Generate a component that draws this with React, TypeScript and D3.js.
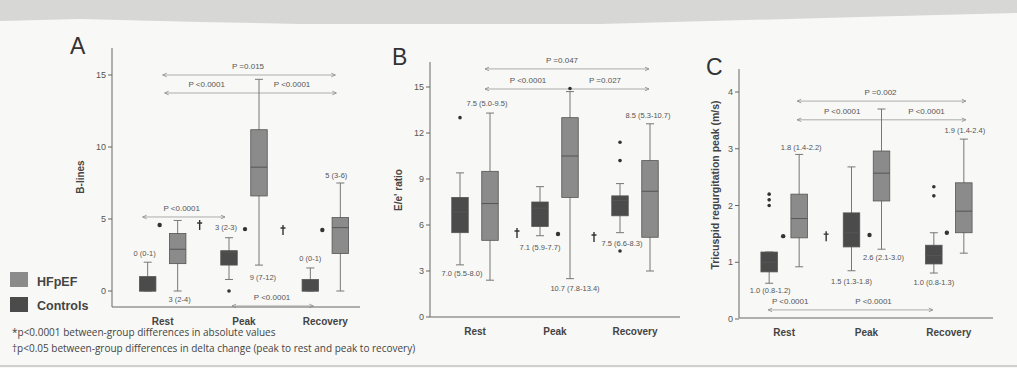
import React from 'react';
import * as d3 from 'd3';

const categories = ['Rest', 'Peak', 'Recovery'];
const groups = ['Controls', 'HFpEF'];

// box stats per category: [whisker low, q1, median, q3, whisker high]
const blinesControls = [[0, 0, 0, 1, 2], [0.8, 1.8, 2.7, 2.8, 3.7], [0, 0, 0, 0.8, 1.6]];
const blinesHfpef = [[0, 1.9, 2.9, 4, 4.9], [1.8, 6.6, 8.6, 11.2, 14.7], [0, 2.6, 4.4, 5.1, 7.5]];
const blinesOutliers = [{ cat: 'Peak', group: 'Controls', v: 0 }];
const blinesTicks = [0, 5, 10, 15];
const blinesText = ['0 (0-1)', '3 (2-4)', '3 (2-3)', '9 (7-12)', '0 (0-1)', '5 (3-6)'];
const blinesP = ['P =0.015', 'P <0.0001', 'P <0.0001', 'P <0.0001', 'P <0.0001', 'P <0.0001'];

const eeControls = [[3.4, 5.5, 6.85, 7.8, 9.4], [5.3, 5.9, 7.1, 7.5, 8.5], [5.5, 6.6, 7.6, 7.9, 8.7]];
const eeHfpef = [[2.4, 5.0, 7.4, 9.5, 13.3], [2.5, 7.8, 10.5, 13.0, 14.7], [3.0, 5.2, 8.2, 10.2, 12.6]];
const eeOutliers = [
  { cat: 'Rest', group: 'Controls', v: 13.0 },
  { cat: 'Peak', group: 'HFpEF', v: 14.9 },
  { cat: 'Recovery', group: 'Controls', v: 11.4 },
  { cat: 'Recovery', group: 'Controls', v: 10.2 },
  { cat: 'Recovery', group: 'Controls', v: 4.3 },
];
const eeTicks = [0, 3, 6, 9, 12, 15];
const eeText = ['7.0 (5.5-8.0)', '7.5 (5.0-9.5)', '7.1 (5.9-7.7)', '10.7 (7.8-13.4)', '7.5 (6.6-8.3)', '8.5 (5.3-10.7)'];
const eeP = ['P =0.047', 'P <0.0001', 'P =0.027'];

const trControls = [[0.63, 0.83, 1.0, 1.18, 1.18], [0.85, 1.27, 1.52, 1.87, 2.68], [0.81, 0.97, 1.12, 1.3, 1.52]];
const trHfpef = [[0.92, 1.43, 1.77, 2.2, 2.9], [1.23, 2.08, 2.57, 2.96, 3.7], [1.16, 1.52, 1.9, 2.4, 3.17]];
const trOutliers = [
  { cat: 'Rest', group: 'Controls', v: 2.2 },
  { cat: 'Rest', group: 'Controls', v: 2.1 },
  { cat: 'Rest', group: 'Controls', v: 2.0 },
  { cat: 'Recovery', group: 'Controls', v: 2.33 },
  { cat: 'Recovery', group: 'Controls', v: 2.17 },
];
const trTicks = [0, 1, 2, 3, 4];
const trText = ['1.0 (0.8-1.2)', '1.8 (1.4-2.2)', '1.5 (1.3-1.8)', '2.6 (2.1-3.0)', '1.0 (0.8-1.3)', '1.9 (1.4-2.4)'];
const trP = ['P =0.002', 'P <0.0001', 'P <0.0001', 'P <0.0001', 'P <0.0001'];

const footnotes = [
  '*p<0.0001 between-group differences in absolute values',
  '\u2020p<0.05 between-group differences in delta change (peak to rest and peak to recovery)',
];

const HF_FILL = '#8b8b8b';
const CT_FILL = '#4b4b4b';
const FONT = '"Liberation Sans", Arial, sans-serif';

// layout for each panel (positions only)
const layoutA = {
  letter: 'A', letterX: 70, letterY: 54, title: 'B-lines', titleX: 84, titleY: 177,
  axisX: 112, axisTop: 48, baseY: 307, xEnd: 360, xRange: [122, 366], yRange: [291, 75], domain: [0, 15],
  textPos: [[-18, 2.6], [17, -0.6], [-18, 4.4], [19, 0.97], [-15, 2.3], [11, 8.05]],
  brackets: [
    { from: ['Rest', 0], to: ['Recovery', 10], v: 15.0, labels: [['Peak', 4]], p: [0] },
    { from: ['Rest', 2], to: ['Recovery', 11], v: 13.75, labels: [['Rest', 44], ['Peak', 48]], p: [1, 2] },
    { from: ['Rest', -20], to: ['Peak', -19], v: 5.14, labels: [['Rest', 19]], p: [3] },
    { from: ['Peak', -12], to: ['Recovery', -12], v: -1.04, labels: [['Peak', 28]], p: [4] },
  ],
  marks: [['Rest', -3, 4.58, '*'], ['Rest', 37, 4.58, '\u2020'], ['Peak', 1, 4.3, '*'], ['Peak', 39, 4.24, '\u2020'], ['Recovery', -3, 4.24, '*']],
};

const layoutB = {
  letter: 'B', letterX: 392, letterY: 65, title: "E/e' ratio", titleX: 402, titleY: 190,
  axisX: 430, axisTop: 62, baseY: 317, xEnd: 680, xRange: [435, 675], yRange: [317, 87], domain: [0, 15],
  textPos: [[-13, 2.87], [12, 13.96], [-15, 4.57], [20, 1.89], [-13, 4.83], [13, 13.18]],
  brackets: [
    { from: ['Rest', 10], to: ['Recovery', 14], v: 16.18, labels: [['Peak', 7]], p: [0] },
    { from: ['Rest', 10], to: ['Recovery', 14], v: 14.87, labels: [['Rest', 53], ['Peak', 50]], p: [1, 2] },
  ],
  marks: [['Peak', -38, 5.48, '\u2020'], ['Peak', 3, 5.41, '*'], ['Recovery', -41, 5.22, '\u2020']],
};

const layoutC = {
  letter: 'C', letterX: 706, letterY: 75, title: 'Tricuspid regurgitation peak (m/s)', titleX: 719, titleY: 185,
  axisX: 739, axisTop: 69, baseY: 318, xEnd: 993, xRange: [743, 990], yRange: [319, 92], domain: [0, 4],
  textPos: [[-14, 0.5], [17, 3.03], [-15, 0.67], [17, 1.09], [-15, 0.65], [16, 3.33]],
  brackets: [
    { from: ['Rest', 13], to: ['Recovery', 17], v: 3.84, labels: [['Peak', 14]], p: [0] },
    { from: ['Rest', 13], to: ['Recovery', 17], v: 3.51, labels: [['Rest', 58], ['Peak', 60]], p: [1, 2] },
    { from: ['Rest', -16], to: ['Recovery', -16], v: 0.16, labels: [['Rest', 6], ['Peak', 7]], p: [3, 4] },
  ],
  marks: [['Rest', -1, 1.46, '*'], ['Rest', 42, 1.46, '\u2020'], ['Peak', 3, 1.48, '*'], ['Recovery', -2, 1.52, '*']],
};

type Layout = typeof layoutA;

function Panel({ L, ctrl, hf, outliers, ticks, texts, pvals }: any) {
  const lay: Layout = L;
  const x = d3.scaleBand().domain(categories).range(lay.xRange as [number, number]);
  const cx = (c: string) => (x(c) as number) + x.bandwidth() / 2;
  const gx = d3.scalePoint().domain(groups).range([-15, 15]);
  const y = d3.scaleLinear().domain(lay.domain).range(lay.yRange);
  const bw = 16.5;

  const boxes: any[] = [];
  categories.forEach((c, i) => {
    boxes.push({ c, g: 'Controls', s: ctrl[i], fill: CT_FILL });
    boxes.push({ c, g: 'HFpEF', s: hf[i], fill: HF_FILL });
  });

  return (
    <g fontFamily={FONT}>
      <text x={lay.letterX} y={lay.letterY} fontSize={23} fill="#333">{lay.letter}</text>
      <text transform={`translate(${lay.titleX},${lay.titleY}) rotate(-90)`} textAnchor="middle"
        fontSize={lay.letter === 'C' ? 10.5 : 10} fontWeight="bold" fill="#444">{lay.title}</text>
      {/* axes */}
      <line x1={lay.axisX} x2={lay.axisX} y1={lay.axisTop} y2={lay.baseY} stroke="#666" strokeWidth={1} />
      <line x1={lay.axisX} x2={lay.xEnd} y1={lay.baseY} y2={lay.baseY} stroke="#666" strokeWidth={1} />
      {ticks.map((t: number) => (
        <g key={t} transform={`translate(${lay.axisX},${y(t)})`}>
          <line x1={-4} x2={0} stroke="#666" />
          <text x={-6} dy="0.35em" textAnchor="end" fontSize={9} fill="#555">{t}</text>
        </g>
      ))}
      {categories.map(c => (
        <text key={c} x={cx(c)} y={lay.baseY + 18} textAnchor="middle" fontSize={10} fontWeight="bold" fill="#444">{c}</text>
      ))}
      {/* brackets */}
      {lay.brackets.map((b, i) => {
        const x1 = cx(b.from[0] as string) + (b.from[1] as number);
        const x2 = cx(b.to[0] as string) + (b.to[1] as number);
        const yy = y(b.v);
        return (
          <g key={i}>
            <line x1={x1} x2={x2} y1={yy} y2={yy} stroke="#999" strokeWidth={0.8} />
            <path d={`M${x1 + 4},${yy - 1.8}L${x1},${yy}L${x1 + 4},${yy + 1.8}`} fill="none" stroke="#888" strokeWidth={0.8} />
            <path d={`M${x2 - 4},${yy - 1.8}L${x2},${yy}L${x2 - 4},${yy + 1.8}`} fill="none" stroke="#888" strokeWidth={0.8} />
            {b.labels.map((l, j) => (
              <text key={j} x={cx(l[0] as string) + (l[1] as number)} y={yy - 6} textAnchor="middle" fontSize={8} fill="#555">
                {pvals[b.p[j]]}
              </text>
            ))}
          </g>
        );
      })}
      {/* boxes */}
      {boxes.map((b, i) => {
        const xc = cx(b.c) + (gx(b.g) as number);
        const [lo, q1, med, q3, hi] = b.s;
        return (
          <g key={i}>
            <line x1={xc} x2={xc} y1={y(hi)} y2={y(lo)} stroke="#777" strokeWidth={1} />
            <line x1={xc - 4} x2={xc + 4} y1={y(hi)} y2={y(hi)} stroke="#777" strokeWidth={1} />
            <line x1={xc - 4} x2={xc + 4} y1={y(lo)} y2={y(lo)} stroke="#777" strokeWidth={1} />
            <rect x={xc - bw / 2} width={bw} y={y(q3)} height={Math.max(0.5, y(q1) - y(q3))}
              fill={b.fill} stroke="#555" strokeWidth={0.8} />
            <line x1={xc - bw / 2} x2={xc + bw / 2} y1={y(med)} y2={y(med)} stroke="#555" strokeWidth={1} />
          </g>
        );
      })}
      {outliers.map((o: any, i: number) => (
        <circle key={i} cx={cx(o.cat) + (gx(o.group) as number)} cy={y(o.v)} r={1.8} fill="#333" />
      ))}
      {/* median (IQR) labels */}
      {texts.map((t: string, i: number) => {
        const c = categories[Math.floor(i / 2)];
        const [dx, v] = lay.textPos[i];
        return (
          <text key={i} x={cx(c) + dx} y={y(v)} dy="0.35em" textAnchor="middle" fontSize={7.5} fill="#555">{t}</text>
        );
      })}
      {/* significance marks: * as dot, dagger drawn as a small cross */}
      {lay.marks.map((m, i) => {
        const xx = cx(m[0] as string) + (m[1] as number);
        const yy = y(m[2] as number);
        return m[3] === '*'
          ? <circle key={i} cx={xx} cy={yy} r={2.2} fill="#333" />
          : <path key={i} d={`M${xx},${yy - 5}V${yy + 5}M${xx - 2.5},${yy - 2}H${xx + 2.5}`} stroke="#333" strokeWidth={1.4} fill="none" />;
      })}
    </g>
  );
}

export default function App() {
  return (
    <svg width={1017} height={368} style={{ position: 'absolute', left: 0, top: 0, display: 'block' }}>
      <rect width={1017} height={368} fill="#f8f8f6" />
      <path d="M0,0H1017V13L860,17L600,24L300,24L200,22L80,19L0,21Z" fill="#d7d7d5" />
      <line x1={0} x2={1017} y1={366} y2={366} stroke="#d0d0d0" strokeWidth={2} />
      <Panel L={layoutA} ctrl={blinesControls} hf={blinesHfpef} outliers={blinesOutliers} ticks={blinesTicks} texts={blinesText} pvals={blinesP} />
      <Panel L={layoutB} ctrl={eeControls} hf={eeHfpef} outliers={eeOutliers} ticks={eeTicks} texts={eeText} pvals={eeP} />
      <Panel L={layoutC} ctrl={trControls} hf={trHfpef} outliers={trOutliers} ticks={trTicks} texts={trText} pvals={trP} />
      {/* legend */}
      <g fontFamily={FONT} fontWeight="bold" fontSize={12.5} fill="#444">
        <rect x={10} y={272} width={18} height={15} fill={HF_FILL} />
        <text x={37} y={286}>HFpEF</text>
        <rect x={10} y={297} width={18} height={15} fill={CT_FILL} />
        <text x={37} y={310}>Controls</text>
      </g>
      <g fontFamily='"Open Sans", sans-serif' fontSize={10} fill="#444">
        {footnotes.map((f, i) => (
          <text key={i} x={12} y={336 + i * 16}>{f}</text>
        ))}
      </g>
    </svg>
  );
}
